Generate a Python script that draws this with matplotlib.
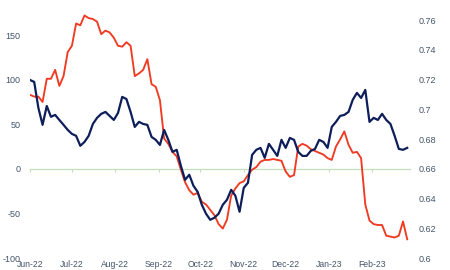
import matplotlib
matplotlib.use("Agg")
import matplotlib.pyplot as plt
import matplotlib.dates as mdates
import matplotlib.ticker as mticker
import pandas as pd

# ---- data ----
start_date = "2022-06-01"
step_days = "3D"
red_values = [83, 81, 81, 75, 101, 101, 111, 93, 104, 131,
              138, 163, 161, 172, 169, 168, 165, 151, 155, 153,
              147, 138, 137, 142, 138, 104, 107, 111, 123, 95,
              92, 77, 34, 28, 19, 14, -1, -15, -24, -29,
              -27, -37, -40, -46, -52, -62, -67, -57, -30, -22,
              -16, -14, -7, -1, 2, 8, 10, 10, 11, 10,
              9, -3, -9, -7, 25, 28, 26, 22, 20, 18,
              16, 12, 10, 25, 33, 42, 27, 18, 19, 12,
              -40, -58, -62, -63, -63, -75, -76, -77, -75, -59,
              -79]
blue_values = [0.7198, 0.7185, 0.7010, 0.6896, 0.7023, 0.6950, 0.6963, 0.6929, 0.6896, 0.6862,
               0.6835, 0.6822, 0.6755, 0.6781, 0.6822, 0.6902, 0.6943, 0.6970, 0.6983, 0.6956,
               0.6929, 0.6976, 0.7084, 0.7070, 0.6983, 0.6882, 0.6916, 0.6902, 0.6896, 0.6815,
               0.6795, 0.6761, 0.6862, 0.6795, 0.6714, 0.6728, 0.6620, 0.6526, 0.6560, 0.6486,
               0.6445, 0.6358, 0.6298, 0.6257, 0.6271, 0.6298, 0.6358, 0.6392, 0.6459, 0.6419,
               0.6311, 0.6472, 0.6506, 0.6694, 0.6728, 0.6741, 0.6674, 0.6768, 0.6728, 0.6687,
               0.6795, 0.6741, 0.6808, 0.6795, 0.6714, 0.6687, 0.6687, 0.6721, 0.6734, 0.6795,
               0.6781, 0.6741, 0.6882, 0.6916, 0.6956, 0.6963, 0.6983, 0.7064, 0.7111, 0.7077,
               0.7131, 0.6916, 0.6943, 0.6929, 0.6970, 0.6929, 0.6902, 0.6822, 0.6734, 0.6728,
               0.6741]
left_ticks = [-100, -50, 0, 50, 100, 150]
right_ticks = [0.6, 0.62, 0.64, 0.66, 0.68, 0.7, 0.72, 0.74, 0.76]
x_start = "2022-06-01"
x_end = "2023-02-28"

dates = pd.date_range(start_date, periods=len(red_values), freq=step_days)

RED = "#F03A22"
NAVY = "#0D1E5A"
TXT = "#44546A"
GRN = "#C5E1BC"

plt.rcParams["font.family"] = ["Liberation Sans", "DejaVu Sans"]

fig = plt.figure(figsize=(4.5, 2.7), dpi=100)
ax = fig.add_axes([30 / 450, 12 / 270, 380 / 450, 267.5 / 270])
ax2 = ax.twinx()

ax.plot(dates, red_values, color=RED, lw=1.35, solid_joinstyle="round")
ax2.plot(dates, blue_values, color=NAVY, lw=1.6, solid_joinstyle="round")

ax.set_xlim(pd.Timestamp(x_start), pd.Timestamp(x_end))
ax.set_ylim(-100, 200)
ax2.set_ylim(0.6, 0.78)

ax.set_yticks(left_ticks)
ax.set_yticklabels([f"{v:g}" for v in left_ticks])
ax2.set_yticks(right_ticks)
ax2.set_yticklabels([f"{v:g}" for v in right_ticks])

for a in (ax, ax2):
    for s in a.spines.values():
        s.set_visible(False)

ax.tick_params(axis="y", length=0, pad=7, labelsize=6.5, labelcolor=TXT)
ax2.tick_params(axis="y", length=0, pad=6.5, labelsize=6.5, labelcolor=TXT)

ax.xaxis.set_major_locator(mdates.MonthLocator())
ax.xaxis.set_major_formatter(mdates.DateFormatter("%b-%y"))
ax.tick_params(axis="x", length=0, pad=1.2, labelsize=6.2, labelcolor=TXT)

# category axis line crossing at zero with outward ticks
sec = ax.secondary_xaxis(1 / 3)
sec.xaxis.set_major_locator(mdates.MonthLocator())
sec.xaxis.set_major_formatter(mticker.NullFormatter())
sec.tick_params(axis="x", direction="out", length=2.5, width=0.8, color=GRN)
sec.spines["bottom"].set_color(GRN)
sec.spines["bottom"].set_linewidth(0.9)
sec.set_zorder(0)
ax.set_zorder(1)
ax2.set_zorder(2)
ax.patch.set_visible(False)
ax2.patch.set_visible(False)

fig.savefig("out.png", dpi=100)
